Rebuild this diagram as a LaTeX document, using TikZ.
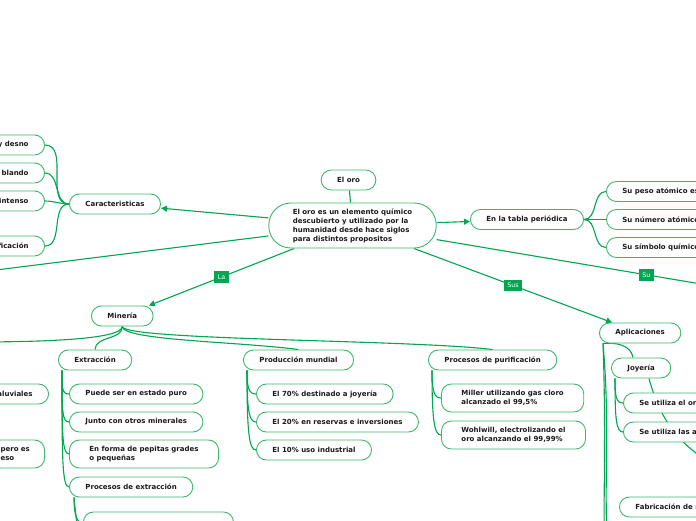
\documentclass[tikz,border=0pt]{standalone}
\usepackage{fontspec}
\setmainfont{DejaVu Sans}
\usetikzlibrary{arrows.meta,backgrounds}
\definecolor{verde}{HTML}{00A650}
\definecolor{borde}{HTML}{3BB86A}
\definecolor{texto}{HTML}{1A1A1A}

\begin{document}
\begin{tikzpicture}[x=1pt, y=1pt, font=\fontsize{7}{9}\selectfont\bfseries,
  tema/.style={draw=borde, fill=white, line width=0.9pt, rounded corners=10pt, minimum height=20pt, inner xsep=16pt, inner ysep=2pt, text=texto},
  doble/.style={tema, minimum height=28pt, inner xsep=20pt, align=left},
  conector/.style={verde, line width=1.1pt},
  flecha/.style={conector, -{Triangle[length=6pt,width=6pt]}},
  etiqueta/.style={fill=verde, text=white, font=\fontsize{6.3}{7}\selectfont, inner xsep=3.5pt, inner ysep=0pt, minimum height=11.5pt}]
\useasboundingbox (0,0) rectangle (696,-520);
\clip (0,0) rectangle (696,-520);
% centro y ramas principales
\node[tema] (oro) at (348.5,-180) {El oro};
\node[tema, rounded corners=22pt, inner xsep=24pt, align=left, minimum height=45pt] (centro) at (352.5,-225.5) {El oro es un elemento químico\\descubierto y utilizado por la\\humanidad desde hace siglos\\para distintos propositos};
\node[tema, anchor=west] (caract) at (69,-204) {Caracteristicas};
\node[tema, anchor=west] (tabla) at (470,-219.5) {En la tabla periódica};
\node[tema, anchor=west] (mineria) at (91,-316) {Minería};
\node[tema, anchor=west] (aplic) at (599,-333) {Aplicaciones};
\coordinate (oeste) at (-60,-277);
\coordinate (su) at (856,-310);
% caracteristicas
\node[tema, anchor=east] (desno) at (45,-145) {y desno};
\node[tema, anchor=east] (blando) at (45,-173) {blando};
\node[tema, anchor=east] (intenso) at (45,-201) {intenso};
\node[tema, anchor=east] (ficacion) at (45,-246) {ficación};
% tabla periodica
\node[tema, anchor=west] (peso) at (606,-191.5) {Su peso atómico es};
\node[tema, anchor=west] (numero) at (606,-219.5) {Su número atómico};
\node[tema, anchor=west] (simbolo) at (606,-247.5) {Su símbolo químico};
% mineria
\node[tema, anchor=west] (extraccion) at (58,-360) {Extracción};
\node[tema, anchor=west] (puro) at (69,-394) {Puede ser en estado puro};
\node[tema, anchor=west] (minerales) at (69,-422) {Junto con otros minerales};
\node[doble, anchor=west] (pepitas) at (69,-454) {En forma de pepitas grades\\o pequeñas};
\node[tema, anchor=west] (procext) at (69,-487) {Procesos de extracción};
\node[tema, anchor=west, minimum width=150pt, minimum height=22pt] (metodo) at (83,-523) {};
\node[tema, anchor=east] (aluviales) at (49,-394) {aluviales};
\node[doble, anchor=east, text width=34pt, inner xsep=10pt] (pero) at (45,-454) {pero es\\eso};
\node[tema, anchor=west] (produccion) at (243,-360) {Producción mundial};
\node[tema, anchor=west] (setenta) at (256,-394) {El 70\% destinado a joyería};
\node[tema, anchor=west] (veinte) at (256,-422) {El 20\% en reservas e inversiones};
\node[tema, anchor=west] (diez) at (256,-450) {El 10\% uso industrial};
\node[tema, anchor=west] (purif) at (428,-360) {Procesos de purificación};
\node[doble, anchor=west] (miller) at (441,-398) {Miller utilizando gas cloro\\alcanzado el 99,5\%};
\node[doble, anchor=west] (wohlwill) at (441,-435) {Wohlwill, electrolizando el\\oro alcanzando el 99,99\%};
\coordinate (izq) at (-30,-342);
\coordinate (abajo) at (78,-545);
% aplicaciones
\node[tema, anchor=west] (joyeria) at (611,-368) {Joyería};
\node[tema, anchor=west] (orouso) at (623,-403) {Se utiliza el or};
\node[tema, anchor=west] (aleac) at (623,-432) {Se utiliza las a};
\node[tema, anchor=west] (fabric) at (619,-507) {Fabricación de m};
\coordinate (joyder) at (725,-470);
\coordinate (fabder) at (725,-487);
\coordinate (aplabajo1) at (604,-545);
\coordinate (aplabajo2) at (607,-545);

% conectores, por debajo de los nodos
\begin{pgfonlayer}{background}
\draw[conector] (oro) -- (centro);
\draw[flecha] (centro) -- (caract);
\draw[flecha] (centro) -- (tabla);
\draw[conector] (centro) -- (oeste);
\draw[conector] (centro) -- node[etiqueta]{Su} (su);
\draw[flecha] (centro) -- node[etiqueta]{La} (mineria);
\draw[flecha] (centro) -- node[etiqueta]{Sus} (aplic);
\foreach \h in {desno,blando,intenso,ficacion}
  \draw[conector] (caract.west) to[out=180,in=0] (\h.east);
\foreach \h in {peso,numero,simbolo}
  \draw[conector] (tabla.east) to[out=0,in=180] (\h.west);
\draw[conector] (mineria.south) to[out=-90,in=90] (extraccion.north);
\draw[conector] (mineria.south) .. controls +(0,-14) and +(-60,8) .. (produccion.north);
\draw[conector] (mineria.south) .. controls +(0,-14) and +(-80,10) .. (purif.north);
\draw[conector] (mineria.south) .. controls +(0,-14) and +(60,0) .. (izq);
\foreach \h/\d in {puro/18,minerales/40,pepitas/62,procext/85}
  \draw[conector] ([xshift=4pt]extraccion.south west) to[out=-90,in=180,out distance=\d pt,in distance=7pt] (\h.west);
\draw[conector] ([xshift=5pt]procext.south west) to[out=-90,in=180,out distance=18pt,in distance=6pt] (metodo.west);
\draw[conector] ([xshift=5pt]procext.south west) to[out=-85,in=90] (abajo);
\foreach \h/\d in {setenta/18,veinte/40,diez/62}
  \draw[conector] ([xshift=4pt]produccion.south west) to[out=-90,in=180,out distance=\d pt,in distance=7pt] (\h.west);
\foreach \h/\d in {miller/20,wohlwill/48}
  \draw[conector] ([xshift=4pt]purif.south west) to[out=-90,in=180,out distance=\d pt,in distance=7pt] (\h.west);
\draw[conector] ([xshift=4pt]aplic.south west) to[out=5,in=100] ([xshift=22pt]joyeria.north west);
\draw[conector] ([xshift=4pt]aplic.south west) to[out=-88,in=90] (aplabajo1);
\draw[conector] ([xshift=4pt]aplic.south west) to[out=-85,in=92] (aplabajo2);
\foreach \h/\d in {orouso/18,aleac/40}
  \draw[conector] ([xshift=4pt]joyeria.south west) to[out=-90,in=180,out distance=\d pt,in distance=7pt] (\h.west);
\draw[conector] ([xshift=38pt]joyeria.south west) to[out=-75,in=155] (joyder);
\draw[conector] ([xshift=-6pt]fabric.north east) to[out=80,in=180] (fabder);
\end{pgfonlayer}
\end{tikzpicture}
\end{document}
